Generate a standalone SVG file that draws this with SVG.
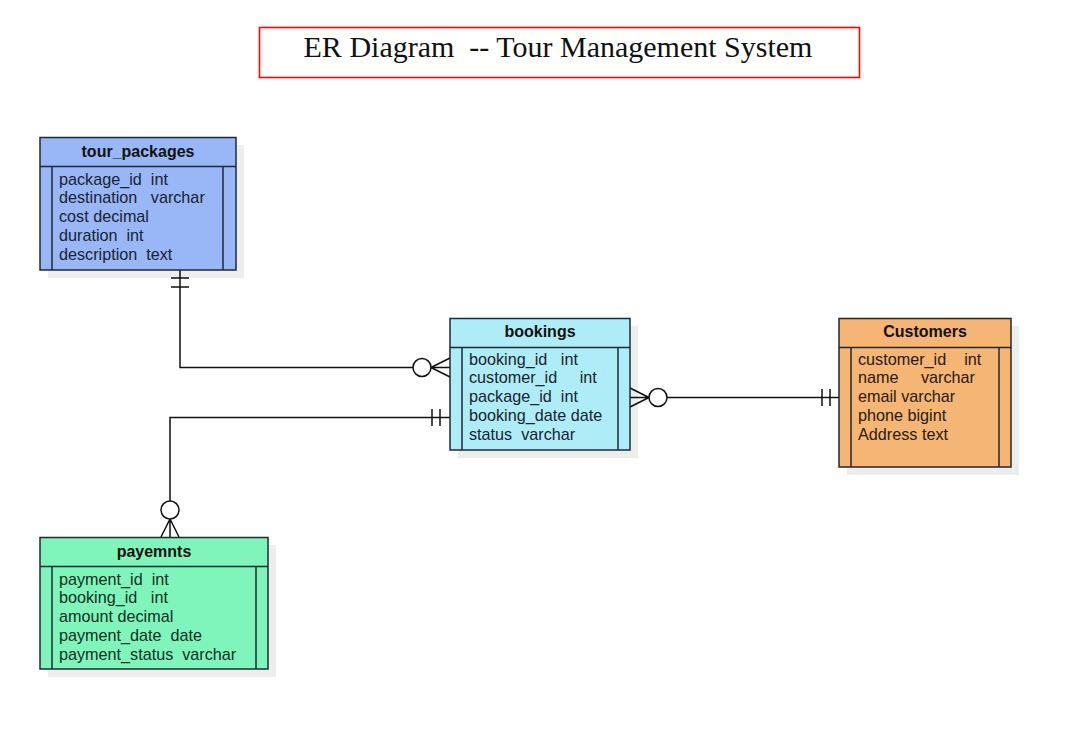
<svg xmlns="http://www.w3.org/2000/svg" width="1089" height="741" viewBox="0 0 1089 741">
<style>
.sh{fill:#000;fill-opacity:0.07}
.box{stroke:#1e2a36;stroke-width:1.5}
.ln{fill:none;stroke:#1e2a36;stroke-width:1.5}
.hd{font-family:"Liberation Sans",Arial,sans-serif;font-size:16px;font-weight:bold;fill:#111;text-anchor:middle}
.tx{font-family:"Liberation Sans",Arial,sans-serif;font-size:16.2px;fill:#1a2330;white-space:pre}
.c{fill:none;stroke:#111;stroke-width:1.5}
.cw{fill:#fff;stroke:#111;stroke-width:1.5}
</style>
<rect width="1089" height="741" fill="#fff"/>
<g id="title">
<rect x="259.5" y="27.5" width="600" height="50" fill="#fff" stroke="#ff0000" stroke-width="1.6"/>
<text x="558" y="57" xml:space="preserve" style="font-family:'Liberation Serif','Times New Roman',serif;font-size:30px;fill:#111;text-anchor:middle">ER Diagram  -- Tour Management System</text>
</g>
<g id="connectors">
<path class="c" d="M180 270 V367.5 H413"/>
<path class="c" d="M171 278 H189 M171 287 H189"/>
<circle class="cw" cx="422" cy="367.5" r="9"/>
<path class="c" d="M431 367.5 H450 M431 367.5 L450 358 M431 367.5 L450 377"/>
<path class="c" d="M450 417.5 H170 V501"/>
<path class="c" d="M432 409 V426 M440 409 V426"/>
<circle class="cw" cx="170" cy="510" r="9"/>
<path class="c" d="M170 519 V537 M170 519 L161 537 M170 519 L179 537"/>
<path class="c" d="M630 397.5 H649 M630 388 L649 397.5 M630 407 L649 397.5"/>
<circle class="cw" cx="658" cy="397.5" r="9"/>
<path class="c" d="M667 397.5 H839"/>
<path class="c" d="M822 389 V406 M830 389 V406"/>
</g>
<g id="tour_packages">
<rect class="sh" x="48" y="145" width="196" height="133"/>
<rect class="box" x="40" y="137.5" width="196" height="132.5" fill="#99b6f6"/>
<path class="ln" d="M40 166.5 H236 M52 166.5 V270 M223 166.5 V270"/>
<text class="hd" x="138" y="156.5">tour_packages</text>
<text class="tx" xml:space="preserve"><tspan x="59" y="184.5">package_id  int</tspan><tspan x="59" y="203.3">destination   varchar</tspan><tspan x="59" y="222.1">cost decimal</tspan><tspan x="59" y="240.9">duration  int</tspan><tspan x="59" y="259.7">description  text</tspan></text>
</g>
<g id="bookings">
<rect class="sh" x="458" y="326" width="180" height="132"/>
<rect class="box" x="450" y="318.5" width="180" height="131.5" fill="#aeedf8"/>
<path class="ln" d="M450 347.5 H630 M462 347.5 V450 M618 347.5 V450"/>
<text class="hd" x="540" y="336.5">bookings</text>
<text class="tx" xml:space="preserve"><tspan x="469" y="364.5">booking_id   int</tspan><tspan x="469" y="383.3">customer_id     int</tspan><tspan x="469" y="402.1">package_id  int</tspan><tspan x="469" y="420.9">booking_date date</tspan><tspan x="469" y="439.7">status  varchar</tspan></text>
</g>
<g id="customers">
<rect class="sh" x="847" y="326" width="172" height="149"/>
<rect class="box" x="839" y="318.5" width="172" height="148.5" fill="#f5b574"/>
<path class="ln" d="M839 347.5 H1011 M851 347.5 V467 M999 347.5 V467"/>
<text class="hd" x="925" y="336.5">Customers</text>
<text class="tx" xml:space="preserve" style="fill:#2a1a10"><tspan x="858" y="364.5">customer_id    int</tspan><tspan x="858" y="383.3">name     varchar</tspan><tspan x="858" y="402.1">email varchar</tspan><tspan x="858" y="420.9">phone bigint</tspan><tspan x="858" y="439.7">Address text</tspan></text>
</g>
<g id="payemnts">
<rect class="sh" x="48" y="545" width="228" height="132"/>
<rect class="box" x="40" y="537.5" width="228" height="131.5" fill="#7ff5bb"/>
<path class="ln" d="M40 566.5 H268 M52 566.5 V669 M256 566.5 V669"/>
<text class="hd" x="154" y="556.5">payemnts</text>
<text class="tx" xml:space="preserve" style="fill:#12301f"><tspan x="59" y="584.5">payment_id  int</tspan><tspan x="59" y="603.3">booking_id   int</tspan><tspan x="59" y="622.1">amount decimal</tspan><tspan x="59" y="640.9">payment_date  date</tspan><tspan x="59" y="659.7">payment_status  varchar</tspan></text>
</g>
</svg>
